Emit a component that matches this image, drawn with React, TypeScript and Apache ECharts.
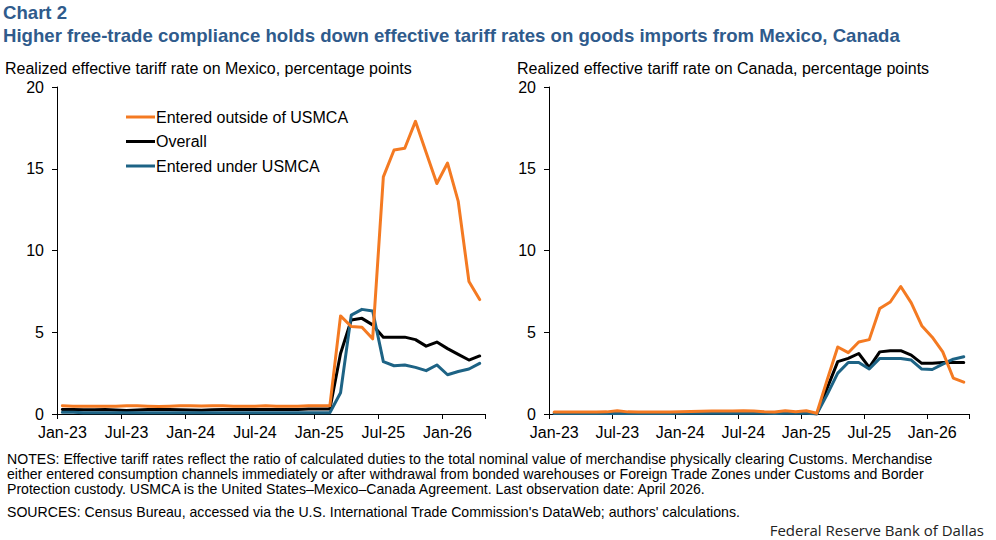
import React, { useEffect, useRef } from "react";
import * as echarts from "echarts";

const months: string[] = [
  "Jan-23","Feb-23","Mar-23","Apr-23","May-23","Jun-23","Jul-23","Aug-23","Sep-23","Oct-23","Nov-23","Dec-23",
  "Jan-24","Feb-24","Mar-24","Apr-24","May-24","Jun-24","Jul-24","Aug-24","Sep-24","Oct-24","Nov-24","Dec-24",
  "Jan-25","Feb-25","Mar-25","Apr-25","May-25","Jun-25","Jul-25","Aug-25","Sep-25","Oct-25","Nov-25","Dec-25",
  "Jan-26","Feb-26","Mar-26","Apr-26",
];

// Mexico
const mexOutside: number[] = [
  0.5, 0.48, 0.47, 0.47, 0.48, 0.48, 0.5, 0.5, 0.48, 0.46, 0.48, 0.5,
  0.5, 0.49, 0.5, 0.5, 0.48, 0.47, 0.48, 0.5, 0.48, 0.47, 0.48, 0.5,
  0.5, 0.5, 6.0, 5.35, 5.3, 4.6, 14.5, 16.15, 16.25, 17.9, 16.0, 14.1,
  15.35, 13.0, 8.1, 7.0,
];
const mexOverall: number[] = [
  0.28, 0.27, 0.26, 0.26, 0.27, 0.25, 0.22, 0.25, 0.27, 0.27, 0.27, 0.26,
  0.24, 0.23, 0.26, 0.27, 0.27, 0.27, 0.27, 0.27, 0.27, 0.27, 0.28, 0.3,
  0.3, 0.3, 3.7, 5.75, 5.85, 5.45, 4.7, 4.7, 4.7, 4.55, 4.15, 4.4,
  4.0, 3.65, 3.3, 3.55,
];
const mexUnder: number[] = [
  0.1, 0.1, 0.08, 0.08, 0.08, 0.08, 0.08, 0.08, 0.08, 0.08, 0.08, 0.08,
  0.08, 0.08, 0.08, 0.08, 0.08, 0.08, 0.08, 0.08, 0.08, 0.08, 0.08, 0.08,
  0.08, 0.08, 1.3, 6.05, 6.4, 6.3, 3.2, 2.95, 3.0, 2.85, 2.65, 3.0,
  2.4, 2.6, 2.75, 3.1,
];

// Canada
const canOutside: number[] = [
  0.12, 0.12, 0.12, 0.12, 0.12, 0.13, 0.2, 0.13, 0.12, 0.12, 0.12, 0.12,
  0.14, 0.16, 0.17, 0.18, 0.18, 0.18, 0.2, 0.19, 0.14, 0.12, 0.2, 0.14,
  0.2, 0.05, 2.1, 4.1, 3.75, 4.4, 4.55, 6.45, 6.85, 7.8, 6.8, 5.4,
  4.7, 3.8, 2.2, 1.95,
];
const canOverall: number[] = [
  0.07, 0.07, 0.07, 0.07, 0.07, 0.07, 0.1, 0.07, 0.07, 0.07, 0.07, 0.07,
  0.08, 0.09, 0.1, 0.1, 0.1, 0.1, 0.1, 0.1, 0.08, 0.07, 0.1, 0.08,
  0.1, 0.0, 1.6, 3.2, 3.4, 3.7, 2.85, 3.8, 3.87, 3.87, 3.6, 3.1,
  3.1, 3.15, 3.15, 3.15,
];
const canUnder: number[] = [
  0.03, 0.03, 0.03, 0.03, 0.03, 0.03, 0.05, 0.03, 0.03, 0.03, 0.03, 0.03,
  0.04, 0.05, 0.05, 0.05, 0.05, 0.05, 0.05, 0.05, 0.04, 0.03, 0.05, 0.04,
  0.05, 0.0, 1.2, 2.5, 3.15, 3.15, 2.75, 3.4, 3.4, 3.4, 3.3, 2.75,
  2.72, 3.05, 3.35, 3.5,
];

const yTicks = { min: 0, max: 20, interval: 5 };

const seriesNames = ["Entered outside of USMCA", "Overall", "Entered under USMCA"];
const seriesColors = ["#F47A22", "#000000", "#1D6385"];

const titleLines = [
  "Chart 2",
  "Higher free-trade compliance holds down effective tariff rates on goods imports from Mexico, Canada",
];
const panelTitles = [
  "Realized effective tariff rate on Mexico, percentage points",
  "Realized effective tariff rate on Canada, percentage points",
];
const noteLines = [
  "NOTES: Effective tariff rates reflect the ratio of calculated duties to the total nominal value of merchandise physically clearing Customs. Merchandise",
  "either entered consumption channels immediately or after withdrawal from bonded warehouses or Foreign Trade Zones under Customs and Border",
  "Protection custody. USMCA is the United States\u2013Mexico\u2013Canada Agreement. Last observation date: April 2026.",
];
const sourceLine =
  "SOURCES: Census Bureau, accessed via the U.S. International Trade Commission's DataWeb; authors' calculations.";
const creditLine = "Federal Reserve Bank of Dallas";

const FONT = "'Liberation Sans', Arial, sans-serif";

export default function App() {
  const ref = useRef<HTMLDivElement>(null);
  useEffect(() => {
    document.body.style.margin = "0";
    if (!ref.current) return;
    const chart = echarts.init(ref.current, null, { renderer: "svg" });

    const xAxisBase = (gridIndex: number) => ({
      type: "category" as const,
      gridIndex,
      data: months,
      boundaryGap: true,
      axisLine: { show: true, lineStyle: { color: "#000", width: 1 } },
      axisTick: { show: true, interval: 5, length: 5, lineStyle: { color: "#000" } },
      axisLabel: { interval: 5, color: "#000", fontSize: 16, fontFamily: FONT, margin: 10 },
      splitLine: { show: false },
    });
    const yAxisBase = (gridIndex: number) => ({
      type: "value" as const,
      gridIndex,
      min: yTicks.min,
      max: yTicks.max,
      interval: yTicks.interval,
      axisLine: { show: true, lineStyle: { color: "#000", width: 1 } },
      axisTick: { show: true, length: 5, lineStyle: { color: "#000" } },
      axisLabel: { color: "#000", fontSize: 16, fontFamily: FONT, margin: 13 },
      splitLine: { show: false },
    });

    const mk = (name: string, data: number[], color: string, idx: number, z: number) => ({
      name,
      type: "line" as const,
      xAxisIndex: idx,
      yAxisIndex: idx,
      data,
      showSymbol: false,
      symbol: "none",
      z,
      lineStyle: { color, width: 3, cap: "round", join: "round" },
      itemStyle: { color },
      emphasis: { disabled: true },
    });

    const option: any = {
      animation: false,
      grid: [
        { left: 57, top: 87, width: 428, height: 327 },
        { left: 549, top: 87, width: 420, height: 327 },
      ],
      xAxis: [xAxisBase(0), xAxisBase(1)],
      yAxis: [yAxisBase(0), yAxisBase(1)],
      legend: {
        orient: "vertical",
        left: 121,
        top: 104,
        itemWidth: 29,
        itemHeight: 3,
        itemGap: 8.5,
        icon: "rect",
        data: seriesNames,
        textStyle: { color: "#000", fontSize: 16, fontFamily: FONT, padding: [0, 0, 0, -4] },
        selectedMode: false,
      },
      series: [
        mk(seriesNames[1], mexOverall, seriesColors[1], 0, 2),
        mk(seriesNames[2], mexUnder, seriesColors[2], 0, 3),
        mk(seriesNames[0], mexOutside, seriesColors[0], 0, 4),
        mk(seriesNames[1], canOverall, seriesColors[1], 1, 2),
        mk(seriesNames[2], canUnder, seriesColors[2], 1, 3),
        mk(seriesNames[0], canOutside, seriesColors[0], 1, 4),
      ],
      graphic: [
        {
          type: "text",
          left: 3,
          top: 3,
          style: { text: titleLines[0], font: `bold 18.6px ${FONT}`, fill: "#2F5B8C" },
        },
        {
          type: "text",
          left: 3,
          top: 26,
          style: { text: titleLines[1], font: `bold 18.6px ${FONT}`, fill: "#2F5B8C" },
        },
        {
          type: "text",
          left: 5,
          top: 60,
          style: { text: panelTitles[0], font: `16px ${FONT}`, fill: "#000" },
        },
        {
          type: "text",
          left: 517,
          top: 60,
          style: { text: panelTitles[1], font: `16px ${FONT}`, fill: "#000" },
        },
        ...noteLines.map((t, i) => ({
          type: "text",
          left: 7,
          top: 452 + i * 15,
          style: { text: t, font: `14.1px ${FONT}`, fill: "#000" },
        })),
        {
          type: "text",
          left: 7,
          top: 505,
          style: { text: sourceLine, font: `14.1px ${FONT}`, fill: "#000" },
        },
        {
          type: "text",
          x: 984,
          y: 530,
          style: {
            text: creditLine,
            font: `15px 'Open Sans', sans-serif`,
            lineHeight: 16,
            fill: "#222",
            align: "right",
            verticalAlign: "middle",
          },
        },
      ],
    };
    chart.setOption(option);
    return () => chart.dispose();
  }, []);
  return <div ref={ref} style={{ width: 996, height: 540 }} />;
}
